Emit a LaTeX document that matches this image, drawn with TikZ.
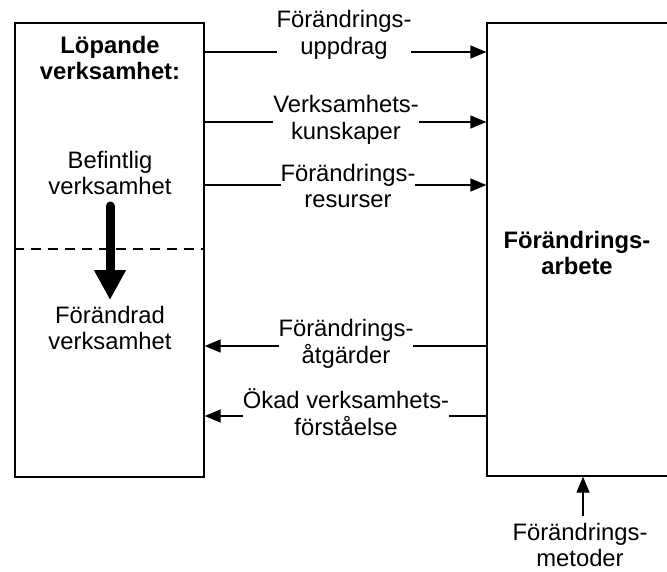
\documentclass[tikz,border=0pt]{standalone}
\usepackage{fontspec}
\setmainfont{Liberation Sans}
\usetikzlibrary{arrows.meta}
\begin{document}
\begin{tikzpicture}[x=1pt,y=-1pt,
  txt/.style={font=\fontsize{23.8}{26.5}\selectfont, align=center, inner sep=0pt},
  bold/.style={txt, font=\fontsize{23.8}{26.5}\selectfont\bfseries},
  lbl/.style={txt, fill=white},
  boxed/.style={draw, line width=1.3pt, inner sep=0pt},
  flow/.style={line width=1.3pt, -{Triangle[length=16pt,width=13pt]}},
  bigarrow/.style={line width=9pt, line cap=round, -{Triangle[length=30pt,width=30pt]}}]
\useasboundingbox[fill=white] (0,0) rectangle (667,571);

% the two main blocks
\node[boxed, minimum width=189pt, minimum height=454pt] (lbox) at (109.5,250) {};
\node[boxed, minimum width=181pt, minimum height=453pt] (rbox) at (577.5,249.5) {};

% split between current and changed operations
\draw[line width=1.3pt, dash pattern=on 10pt off 7pt] (lbox.west |- 0,249) -- (lbox.east |- 0,249);

% texts in the left block
\node[bold] (head) at (110,58) {Löpande\\verksamhet:};
\node[txt] (cur) at (110,173) {Befintlig\\verksamhet};
\node[txt] (new) at (110,328) {Förändrad\\verksamhet};
\coordinate (t0) at (110,206);
\coordinate (t1) at (110,300);
\draw[bigarrow] (t0) -- (t1);

% text in the right block
\node[bold] (work) at (577,253) {Förändrings-\\arbete};

% flows between the blocks
\coordinate (a1) at (0,52);
\coordinate (a2) at (0,122);
\coordinate (a3) at (0,185);
\coordinate (a4) at (0,346);
\coordinate (a5) at (0,416);
\draw[flow] (lbox.east |- a1) -- (rbox.west |- a1);
\draw[flow] (lbox.east |- a2) -- (rbox.west |- a2);
\draw[flow] (lbox.east |- a3) -- (rbox.west |- a3);
\draw[flow] (rbox.west |- a4) -- (lbox.east |- a4);
\draw[flow] (rbox.west |- a5) -- (lbox.east |- a5);

\node[lbl] (f1) at (344,35) {Förändrings-\\uppdrag};
\node[lbl] (f2) at (346,120) {Verksamhets-\\kunskaper};
\node[lbl] (f3) at (348,186) {Förändrings-\\resurser};
\node[lbl] (f4) at (346,344) {Förändrings-\\åtgärder};
\node[lbl] (f5) at (346,412) {Ökad verksamhets-\\förståelse};

% methods entering from below
\node[txt] (meth) at (580,545) {Förändrings-\\metoder};
\coordinate (m0) at (583,516);
\draw[flow] (m0) -- (rbox.south -| m0);
\end{tikzpicture}
\end{document}
